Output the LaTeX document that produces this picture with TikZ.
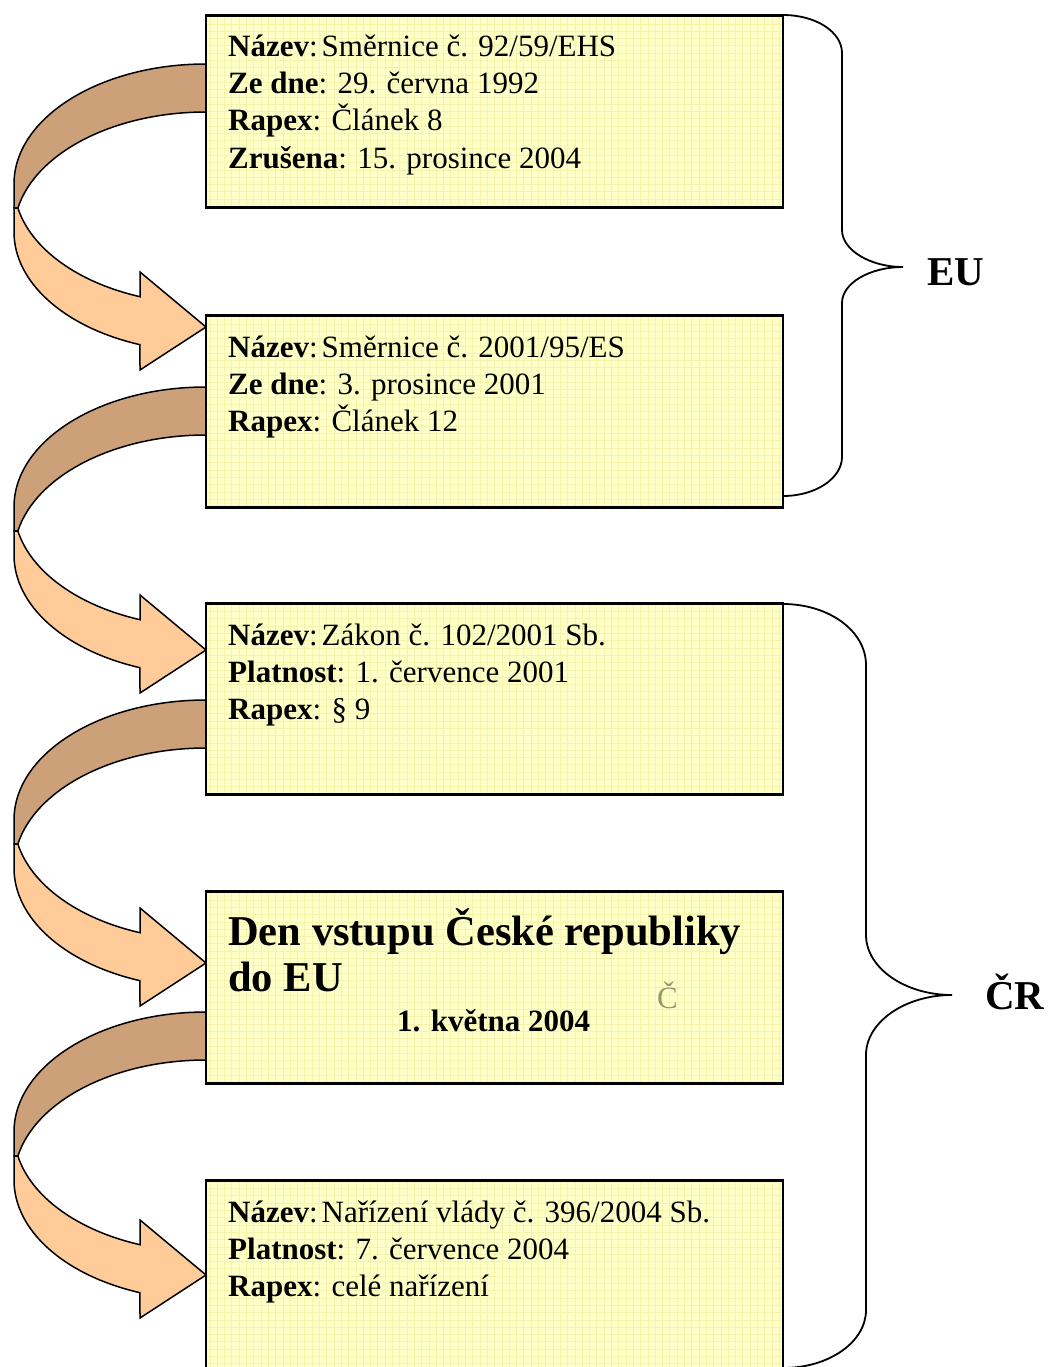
\documentclass[tikz,border=0pt]{standalone}
\usepackage{fontspec}
\setmainfont{Liberation Serif}
\definecolor{boxfill}{RGB}{255,255,200}
\definecolor{gridc}{RGB}{245,243,172}
\definecolor{backc}{RGB}{204,161,122}
\definecolor{frontc}{RGB}{255,204,153}
\definecolor{faintc}{RGB}{150,150,110}
\tikzset{
  box/.style={draw=black, line width=2.8pt, fill=boxfill, minimum width=577pt, minimum height=191.5pt, inner sep=0pt,
    path picture={\draw[gridc, line width=0.6pt] (path picture bounding box.south west) grid[step=7.3pt] (path picture bounding box.north east);}},
  txt/.style={anchor=base west, inner sep=0pt, font=\fontsize{31}{37}\selectfont},
  bigtxt/.style={anchor=base west, inner sep=0pt, font=\fontsize{42.5}{47}\selectfont\bfseries},
  lbl/.style={anchor=base west, inner sep=0pt, font=\fontsize{41}{47}\selectfont\bfseries},
  backband/.style={fill=backc, draw=black, line width=1.5pt, line join=round},
  frontband/.style={fill=frontc, draw=black, line width=1.5pt, line join=miter},
  bracepath/.style={draw=black, line width=1.8pt},
}
\newcommand\cvarrow[1]{%
  \path[backband] (206,#1) arc[start angle=270, end angle=180, x radius=192, y radius=120]
    -- (14,#1+144) -- (17.9,#1+144)
    arc[start angle=191.54, end angle=270, x radius=192, y radius=120] -- cycle;
  \path[frontband] (14,#1+144) -- (14,#1+168) arc[start angle=180, end angle=110.11, x radius=192, y radius=120]
    -- (140,#1+306) -- (206,#1+263) -- (140,#1+208) -- (140,#1+232.7)
    arc[start angle=110.11, end angle=168.46, x radius=192, y radius=120] -- cycle;
}
\begin{document}
\begin{tikzpicture}[x=1pt,y=-1pt]
\useasboundingbox (0,0) rectangle (1050,1367);
\clip (0,0) rectangle (1050,1367);
% curved arrows
\cvarrow{64}
\cvarrow{387}
\cvarrow{700}
\cvarrow{1012}
% boxes
\node[box] (b1) at (494.5,111.5) {};
\node[box] (b2) at (494.5,411.5) {};
\node[box] (b3) at (494.5,699) {};
\node[box] (b4) at (494.5,987.5) {};
\node[box] (b5) at (494.5,1276) {};
% box 1
\node[txt] (t11) at (228,57) {\textbf{Název}:\hspace{4pt}Směrnice č. 92/59/EHS};
\node[txt] (t12) at (228,94) {\textbf{Ze dne}: 29. června 1992};
\node[txt] (t13) at (228,131) {\textbf{Rapex}: Článek 8};
\node[txt] (t14) at (228,168) {\textbf{Zrušena}: 15. prosince 2004};
% box 2
\node[txt] (t21) at (228,357) {\textbf{Název}:\hspace{4pt}Směrnice č. 2001/95/ES};
\node[txt] (t22) at (228,394) {\textbf{Ze dne}: 3. prosince 2001};
\node[txt] (t23) at (228,431) {\textbf{Rapex}: Článek 12};
% box 3
\node[txt] (t31) at (228,645) {\textbf{Název}:\hspace{4pt}Zákon č. 102/2001 Sb.};
\node[txt] (t32) at (228,682) {\textbf{Platnost}: 1. července 2001};
\node[txt] (t33) at (228,719) {\textbf{Rapex}: § 9};
% box 4
\node[bigtxt] (t41) at (228,945) {Den vstupu České republiky};
\node[bigtxt] (t42) at (228,991) {do EU};
\node[txt, font=\fontsize{31}{37}\selectfont\bfseries] (t43) at (397,1031) {1. května 2004};
\node[txt, text=faintc] (t44) at (657,1008) {Č};
% box 5
\node[txt] (t51) at (228,1222) {\textbf{Název}:\hspace{4pt}Nařízení vlády č. 396/2004 Sb.};
\node[txt] (t52) at (228,1259) {\textbf{Platnost}: 7. července 2004};
\node[txt] (t53) at (228,1296) {\textbf{Rapex}: celé nařízení};
% braces
\coordinate (eutip) at (903,267);
\coordinate (crtip) at (952,995);
\draw[bracepath] (783,15) .. controls (816,15) and (842,32) .. (842,53) -- (842,230)
  .. controls (842,250) and (870,267) .. (eutip)
  .. controls (870,267) and (842,283) .. (842,303) -- (842,457)
  .. controls (842,478) and (816,496) .. (783,496);
\draw[bracepath] (783,604) .. controls (829,604) and (866,631) .. (866,665) -- (866,935)
  .. controls (866,968) and (905,995) .. (crtip)
  .. controls (905,995) and (866,1022) .. (866,1055) -- (866,1310)
  .. controls (866,1342) and (829,1368) .. (783,1368);
\node[lbl] (eu) at (927,285) {EU};
\node[lbl] (cr) at (985,1009) {ČR};
\end{tikzpicture}
\end{document}
